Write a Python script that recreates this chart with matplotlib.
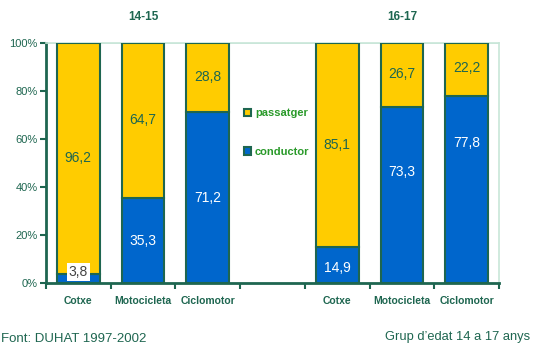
import matplotlib.pyplot as plt
from matplotlib.patches import Patch

plt.rcParams['font.family'] = ['Liberation Sans', 'DejaVu Sans']

categories = ["Cotxe", "Motocicleta", "Ciclomotor", "", "Cotxe", "Motocicleta", "Ciclomotor"]
groups = ["14-15", "16-17"]
conductor = [3.8, 35.3, 71.2, 0, 14.9, 73.3, 77.8]
passatger = [96.2, 64.7, 28.8, 0, 85.1, 26.7, 22.2]
cond_labels = ["3,8", "35,3", "71,2", "", "14,9", "73,3", "77,8"]
pass_labels = ["96,2", "64,7", "28,8", "", "85,1", "26,7", "22,2"]
# label heights as they sit in the original (a couple are not centred)
cond_label_y = [4.6, 17.5, 35.4, 0, 6.4, 46.2, 58.3]
pass_label_y = [52.0, 68.0, 85.8, 0, 57.5, 87.0, 89.6]

yellow = "#FFCC00"
blue = "#0066CC"
dark = "#1E6650"
light = "#C8E6D8"
green = "#2A9A2A"

fig = plt.figure(figsize=(5.33, 3.47), dpi=100)
ax = fig.add_axes([46/533, 1-283/347, (499-46)/533, 240/347])

xs = [i for i, c in enumerate(categories) if c]
c_vals = [conductor[i] for i in xs]
p_vals = [passatger[i] for i in xs]
ax.bar(xs, c_vals, width=0.66, color=blue, edgecolor=dark, linewidth=1.5, zorder=3)
ax.bar(xs, p_vals, bottom=c_vals, width=0.66, color=yellow, edgecolor=dark, linewidth=1.5, zorder=3)

for i in xs:
    if i == 0:
        ax.text(i, cond_label_y[i], cond_labels[i], ha='center', va='center', fontsize=10,
                color="#444444", zorder=5,
                bbox=dict(boxstyle='square,pad=0.15', fc='white', ec='none'))
    else:
        ax.text(i, cond_label_y[i], cond_labels[i], ha='center', va='center', fontsize=10,
                color='white', zorder=5)
    ax.text(i, pass_label_y[i], pass_labels[i], ha='center', va='center', fontsize=10,
            color=dark, zorder=5)

ax.set_xlim(-0.5, 6.5)
ax.set_ylim(0, 100)
ax.axhline(100, color=light, linewidth=1.2, zorder=1)

ax.set_xticks(range(7))
ax.set_xticklabels(categories, fontsize=7.5, fontweight='bold', color=dark)
ax.tick_params(axis='x', which='major', length=0, pad=9)
ax.set_xticks([i - 0.5 for i in range(8)], minor=True)
ax.tick_params(axis='x', which='minor', length=4, width=1.5, color=dark, direction='out')

ax.set_yticks([0, 20, 40, 60, 80, 100])
ax.set_yticklabels(["0%", "20%", "40%", "60%", "80%", "100%"], fontsize=8, color=dark)
ax.tick_params(axis='y', length=4, width=1.5, color=dark, direction='out', pad=2)

for side in ['left', 'bottom']:
    ax.spines[side].set_color(dark)
    ax.spines[side].set_linewidth(2)
for side in ['top', 'right']:
    ax.spines[side].set_color(light)
    ax.spines[side].set_linewidth(1.2)

ax.text(1, 1.108, groups[0], transform=ax.get_xaxis_transform(), ha='center', va='center',
        fontsize=8.5, fontweight='bold', color=dark)
ax.text(5, 1.108, groups[1], transform=ax.get_xaxis_transform(), ha='center', va='center',
        fontsize=8.5, fontweight='bold', color=dark)

handles = [Patch(facecolor=yellow, edgecolor=dark, linewidth=1.5),
           Patch(facecolor=blue, edgecolor=dark, linewidth=1.5)]
leg = fig.legend(handles, ["passatger", "conductor"], loc='upper left',
                 bbox_to_anchor=(234/533, 1-98/347), frameon=False,
                 handlelength=0.6, handleheight=0.6, handletextpad=0.4,
                 labelspacing=2.6, prop={'size': 8, 'weight': 'bold'})
for t in leg.get_texts():
    t.set_color(green)

fig.text(1/533, 1-333/347, "Font: DUHAT 1997-2002", ha='left', va='top', fontsize=9.5, color=dark)
fig.text(530/533, 1-331/347, "Grup d\u2019edat 14 a 17 anys", ha='right', va='top', fontsize=9.3, color=dark)

fig.savefig("out.png", dpi=100)
